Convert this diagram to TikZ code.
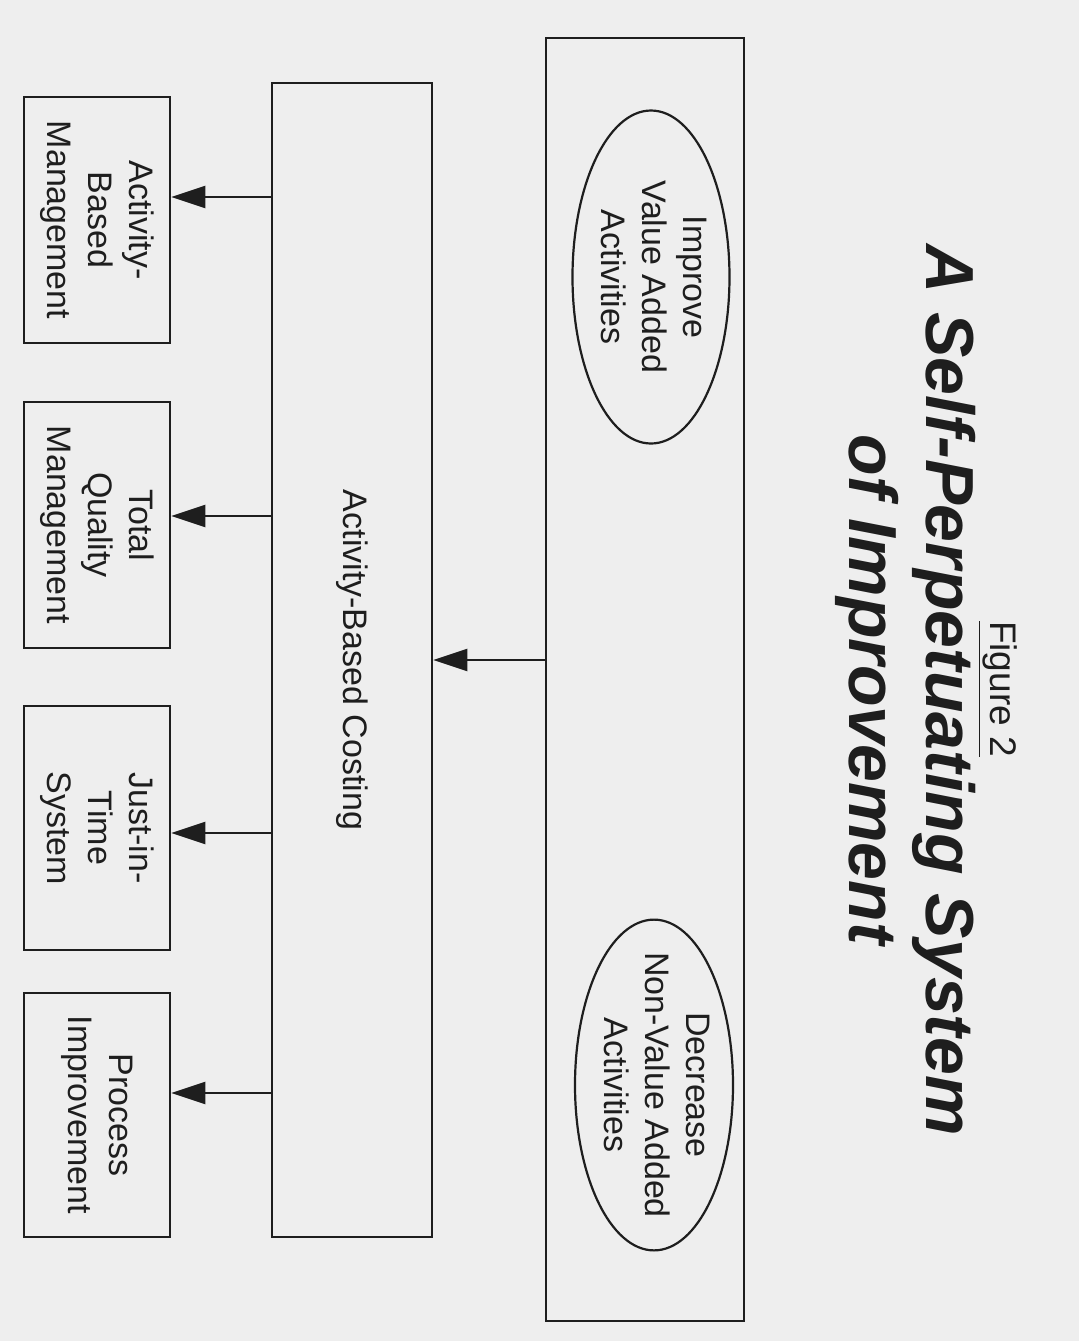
\documentclass[tikz,border=0pt]{standalone}
\usepackage{fontspec}
\setmainfont{Liberation Sans}
\usetikzlibrary{arrows.meta,shapes.geometric,calc}
\definecolor{bgc}{RGB}{238,238,238}
\definecolor{ink}{RGB}{30,30,30}
\newcommand{\rtext}[1]{\rotatebox{-90}{\begin{tabular}{@{}c@{}}#1\end{tabular}}}
\begin{document}
\begin{tikzpicture}[x=0.5pt,y=-0.5pt,
  boxstyle/.style={draw=ink,line width=1.3pt,inner sep=0pt,text=ink,font=\fontsize{17}{20.5}\selectfont},
  ellstyle/.style={ellipse,draw=ink,line width=1.1pt,inner sep=-8pt,text=ink,font=\fontsize{17}{20.5}\selectfont},
  arr/.style={draw=ink,line width=1.2pt,-{Triangle[length=17pt,width=11pt]}}]
\fill[bgc] (0,0) rectangle (1079,1341);
\useasboundingbox (0,0) rectangle (1079,1341);
% title
\node[rotate=-90,anchor=base,text=ink,font=\fontsize{18.5}{22}\selectfont] (fig) at (990,689) {\underline{Figure 2}};
\node[rotate=-90,align=center,text=ink,font=\fontsize{34}{38.5}\selectfont\bfseries\itshape] (title) at (906,690) {A Self-Perpetuating System\\of Improvement};
% big rectangle with ellipses
\node[boxstyle,minimum width=99pt,minimum height=641.5pt] (big) at (645,679.5) {};
\node[ellstyle,minimum width=78.5pt,minimum height=166.5pt] (ell1) at (651,277) {\rtext{Improve\\Value Added\\Activities}};
\node[ellstyle,minimum width=79pt,minimum height=165pt] (ell2) at (654,1085) {\rtext{Decrease\\Non-Value Added\\Activities}};
% activity-based costing
\node[boxstyle,minimum width=80pt,minimum height=577pt] (abc) at (352,660) {\rtext{Activity-Based Costing}};
% bottom boxes
\node[boxstyle,minimum width=73pt,minimum height=123pt] (b1) at (97,220) {\rtext{Activity-\\Based\\Management}};
\node[boxstyle,minimum width=73pt,minimum height=123pt] (b2) at (97,525) {\rtext{Total\\Quality\\Management}};
\node[boxstyle,minimum width=73pt,minimum height=122pt] (b3) at (97,828) {\rtext{Just-in-\\Time\\System}};
\node[boxstyle,minimum width=73pt,minimum height=122pt] (b4) at (97,1115) {\rtext{Process\\Improvement}};
% arrow levels
\coordinate (a1) at (0,197);
\coordinate (a2) at (0,516);
\coordinate (a3) at (0,833);
\coordinate (a4) at (0,1093);
\draw[arr] (abc.east -| big.west) -- (abc.east);
\draw[arr] (abc.west |- a1) -- (b1.east |- a1);
\draw[arr] (abc.west |- a2) -- (b2.east |- a2);
\draw[arr] (abc.west |- a3) -- (b3.east |- a3);
\draw[arr] (abc.west |- a4) -- (b4.east |- a4);
\end{tikzpicture}
\end{document}
